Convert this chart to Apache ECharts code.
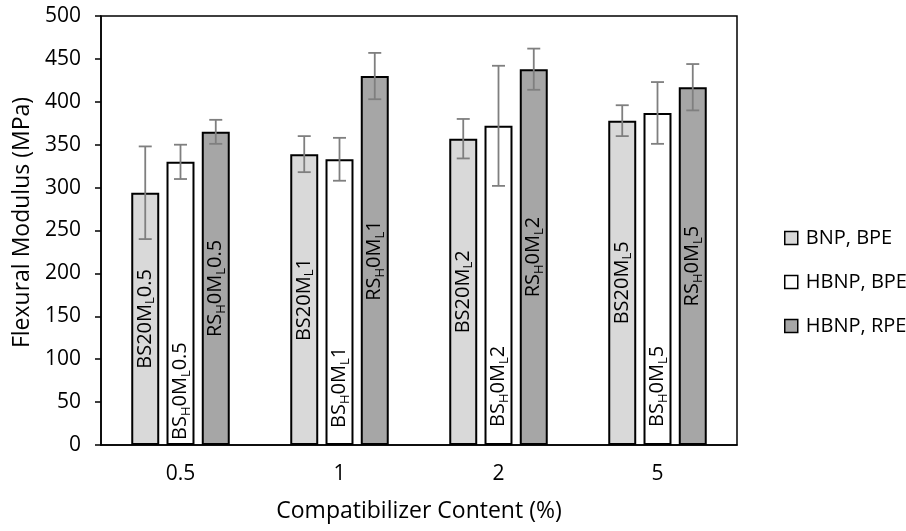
<!DOCTYPE html>
<html><head><meta charset="utf-8">
<script src="https://cdn.jsdelivr.net/npm/echarts@6/dist/echarts.min.js"></script>
<style>html,body{margin:0;padding:0;background:#fff}#c{width:906px;height:531px}</style>
</head><body><div id="c"></div>
<script>
const categories = ['0.5', '1', '2', '5'];
const seriesNames = ['BNP, BPE', 'HBNP, BPE', 'HBNP, RPE'];
const bnpBpe = [294, 339, 357, 378];
const hbnpBpe = [330, 333, 372, 387];
const hbnpRpe = [365, 430, 438, 417];
const bnpBpeErr = [54, 21, 23, 18];
const hbnpBpeErr = [20, 25, 70, 36];
const hbnpRpeErr = [14, 27, 24, 27];
const bnpBpeLabels = ['{n|BS20M}{s|L}{n|0.5}', '{n|BS20M}{s|L}{n|1}', '{n|BS20M}{s|L}{n|2}', '{n|BS20M}{s|L}{n|5}'];
const hbnpBpeLabels = ['{n|BS}{s|H}{n|0M}{s|L}{n|0.5}', '{n|BS}{s|H}{n|0M}{s|L}{n|1}', '{n|BS}{s|H}{n|0M}{s|L}{n|2}', '{n|BS}{s|H}{n|0M}{s|L}{n|5}'];
const hbnpRpeLabels = ['{n|RS}{s|H}{n|0M}{s|L}{n|0.5}', '{n|RS}{s|H}{n|0M}{s|L}{n|1}', '{n|RS}{s|H}{n|0M}{s|L}{n|2}', '{n|RS}{s|H}{n|0M}{s|L}{n|5}'];
const yTicks = [0, 50, 100, 150, 200, 250, 300, 350, 400, 450, 500];

const FONT = 'Open Sans';
const colors = ['#d9d9d9', '#ffffff', '#a6a6a6'];
const values = [bnpBpe, hbnpBpe, hbnpRpe];
const errs = [bnpBpeErr, hbnpBpeErr, hbnpRpeErr];
const labels = [bnpBpeLabels, hbnpBpeLabels, hbnpRpeLabels];
const BW = 0.176, GAP = 0.26;
const rich = {
  n: {fontFamily: FONT, fontSize: 20, color: '#000', lineHeight: 24, verticalAlign: 'middle'},
  s: {fontFamily: FONT, fontSize: 13, color: '#000', lineHeight: 14, verticalAlign: 'bottom'}
};
const bar2Dist = [5, 17, 18, 18];

const series = [];
values.forEach((vals, si) => {
  series.push({
    name: seriesNames[si], type: 'bar', barWidth: (BW*100)+'%', barGap: (GAP*100)+'%',
    itemStyle: {color: colors[si], borderColor: '#000', borderWidth: 2},
    data: vals.map((v, i) => {
      const lab = si === 1
        ? {show: true, position: 'insideBottom', rotate: 90, align: 'left', verticalAlign: 'middle', distance: bar2Dist[i], formatter: labels[si][i], rich}
        : {show: true, position: 'inside', rotate: 90, align: 'center', verticalAlign: 'middle', formatter: labels[si][i], rich};
      return {value: v, label: lab};
    }),
    z: 2
  });
});
values.forEach((vals, si) => {
  series.push({
    type: 'custom', silent: true, z: 5,
    data: vals.map((v, i) => [i, v, errs[si][i]]),
    renderItem: function (params, api) {
      const i = api.value(0), v = api.value(1), e = api.value(2);
      const cw = api.size([1, 0])[0];
      const bw = cw * BW;
      const off = (si - 1) * bw * (1 + GAP);
      const hi = api.coord([i, v + e]), lo = api.coord([i, v - e]);
      const x = hi[0] + off, cap = 6.5;
      const st = {stroke: '#7f7f7f', lineWidth: 1.8};
      return {type: 'group', children: [
        {type: 'line', shape: {x1: x, y1: hi[1], x2: x, y2: lo[1]}, style: st},
        {type: 'line', shape: {x1: x - cap, y1: hi[1], x2: x + cap, y2: hi[1]}, style: st},
        {type: 'line', shape: {x1: x - cap, y1: lo[1], x2: x + cap, y2: lo[1]}, style: st}
      ]};
    }
  });
});

const chart = echarts.init(document.getElementById('c'), null, {renderer: 'canvas'});
chart.setOption({
  animation: false,
  textStyle: {fontFamily: FONT},
  grid: {left: 101, right: 169, top: 16, bottom: 86, show: true, borderColor: '#000', borderWidth: 1.5, containLabel: false},
  legend: {
    orient: 'vertical', left: 779, top: 222, itemWidth: 13, itemHeight: 13, itemGap: 22,
    icon: 'rect', data: seriesNames,
    itemStyle: {borderWidth: 1.5},
    textStyle: {fontFamily: FONT, fontSize: 20, color: '#000', lineHeight: 22, padding: [0, 0, 0, 3]}
  },
  xAxis: {
    type: 'category', data: categories,
    axisLine: {lineStyle: {color: '#000', width: 1.5}},
    axisTick: {show: false},
    axisLabel: {fontFamily: FONT, fontSize: 21, color: '#000', margin: 19},
    name: 'Compatibilizer Content (%)', nameLocation: 'middle', nameGap: 55,
    nameTextStyle: {fontFamily: FONT, fontSize: 23, color: '#000'}
  },
  yAxis: {
    type: 'value', min: 0, max: 500, interval: 50,
    axisLine: {show: true, lineStyle: {color: '#000', width: 1.5}},
    axisTick: {show: true, inside: false, length: 6, lineStyle: {color: '#000', width: 1.5}},
    splitLine: {show: false},
    axisLabel: {fontFamily: FONT, fontSize: 21, color: '#000', margin: 20,
      formatter: v => yTicks.includes(v) ? String(v) : ''},
    name: 'Flexural Modulus (MPa)', nameLocation: 'middle', nameGap: 65,
    nameTextStyle: {fontFamily: FONT, fontSize: 23, color: '#000', padding: [0, 0, 0, 16]}
  },
  series
});
</script></body></html>
